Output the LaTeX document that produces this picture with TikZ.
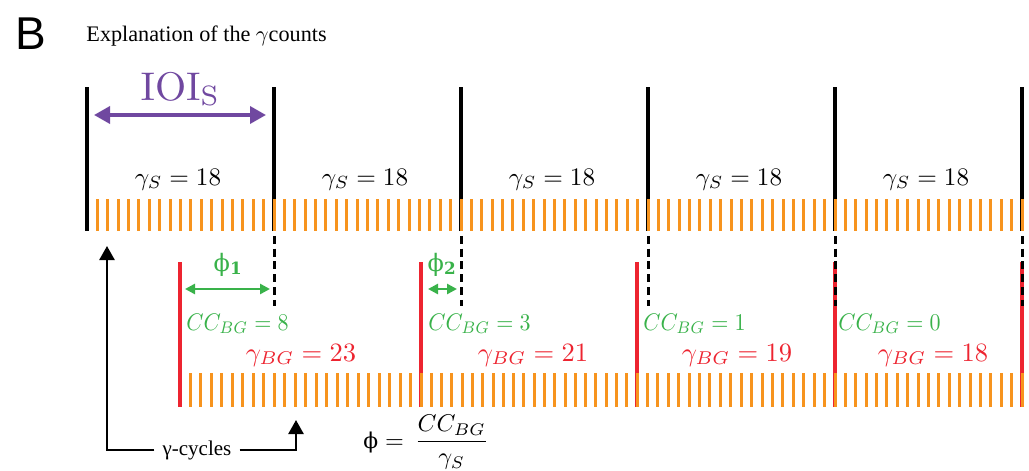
\documentclass[tikz,border=0pt]{standalone}
\usepackage[no-math]{fontspec}
\usepackage{tikz}
\usetikzlibrary{arrows.meta,positioning}
\newfontfamily\panelfont{Liberation Sans}
\newfontfamily\timesfont{Liberation Serif}
\newfontfamily\phifont{DejaVu Serif}
\newcommand{\setpx}[1]{\fontsize{#1}{#1}\selectfont}
\definecolor{tickorange}{RGB}{247,148,30}
\definecolor{bgred}{RGB}{237,36,48}
\definecolor{phigreen}{RGB}{57,178,74}
\definecolor{ioipurple}{RGB}{112,72,160}

\begin{document}
\begin{tikzpicture}[
        x=1pt, y=-1pt,
        stimline/.style={black, line width=3.5pt},
        bgline/.style={bgred, line width=3.5pt},
        onsetdash/.style={black, line width=3pt, dash pattern=on 8pt off 4.8pt, dash phase=8pt},
        gtick/.style={tickorange, line width=3pt},
        ioiarrow/.style={ioipurple, line width=3.5pt, {Triangle[length=16pt,width=17pt]}-{Triangle[length=16pt,width=17pt]}},
        phiarrow/.style={phigreen, line width=2.5pt, {Triangle[length=10pt,width=10pt]}-{Triangle[length=10pt,width=10pt]}},
        cyclearrow/.style={black, line width=2.5pt, -{Triangle[length=14pt,width=15pt]}},
        slabel/.style={anchor=base, inner sep=0pt, scale=2.52},
        bglabel/.style={anchor=base, inner sep=0pt, text=bgred, scale=2.65},
        cclabel/.style={anchor=base west, inner sep=0pt, text=phigreen, xscale=2.2, yscale=2.4},
        philabel/.style={anchor=base, inner sep=0pt, text=phigreen, font=\phifont\setpx{24}}
    ]
        \useasboundingbox (0,0) rectangle (1029,471);

        \node[anchor=base west, inner sep=0pt, font=\panelfont\setpx{46}] (panel) at (15,49) {B};
        \node[anchor=base west, inner sep=0pt, font=\timesfont, scale=2.22] (title) at (86,41) {Explanation of the $\gamma$counts};

        \foreach \i in {0,...,5} {
            \coordinate (s\i) at ({87+187*\i},87);
            \coordinate (sb\i) at ({87+187*\i},231);
            \coordinate (sd\i) at ({87+187*\i},306);
        }
        \foreach \x [count=\j from 0] in {180,421,637,835,1022} {
            \coordinate (g\j) at (\x,262);
            \coordinate (gb\j) at (\x,407);
        }

        \foreach \i in {0,...,5}
            \draw[stimline] (s\i) -- (sb\i);
        \foreach \j in {0,...,4}
            \draw[bgline] (g\j) -- (gb\j);

        \foreach \i in {0,...,4}
            \foreach \k in {1,...,18}
                \draw[gtick] ({87+187*\i+187*\k/18},199) -- ++(0,32);
        \foreach \a/\b/\n in {180/421/23, 421/637/21, 637/835/19, 835/1022/18}
            \foreach \k in {1,...,\n}
                \draw[gtick] ({\a+(\b-\a)*\k/\n},373) -- ++(0,34);

        \foreach \i in {1,...,5}
            \draw[onsetdash] (sb\i) -- (sd\i);

        \node[anchor=base, inner sep=0pt, text=ioipurple, scale=4] (ioi) at (180.5,100) {$\mathrm{IOI_S}$};
        \coordinate (ioiL) at (94,115);
        \coordinate (ioiR) at (266,115);
        \draw[ioiarrow] (ioiL) -- (ioiR);

        \foreach \i in {0,...,4}
            \node[slabel] (gs\i) at ({178+187*\i},185) {$\gamma_S = 18$};

        \coordinate (phiA1) at (185,289);
        \coordinate (phiB1) at (270,289);
        \coordinate (phiA2) at (428,289);
        \coordinate (phiB2) at (457,289);
        \draw[phiarrow] (phiA1) -- (phiB1);
        \draw[phiarrow] (phiA2) -- (phiB2);
        \node[philabel] (phi1) at (228,271) {ϕ\textsubscript{\textbf{1}}};
        \node[philabel] (phi2) at (442,271) {ϕ\textsubscript{\textbf{2}}};

        \node[cclabel] (cc1) at (186,330) {$CC_{BG} = 8$};
        \node[cclabel] (cc2) at (428,330) {$CC_{BG} = 3$};
        \node[cclabel] (cc3) at (643,330) {$CC_{BG} = 1$};
        \node[cclabel] (cc4) at (838,330) {$CC_{BG} = 0$};

        \node[bglabel] (gbg1) at (301,361) {$\gamma_{BG} = 23$};
        \node[bglabel] (gbg2) at (533,361) {$\gamma_{BG} = 21$};
        \node[bglabel] (gbg3) at (737,361) {$\gamma_{BG} = 19$};
        \node[bglabel] (gbg4) at (933,361) {$\gamma_{BG} = 18$};

        \node[inner xsep=8pt, inner ysep=0pt, font=\timesfont\setpx{21}] (cycles) at (197,450) {γ-cycles};
        \coordinate (upL) at (107,246);
        \coordinate (upR) at (296,420);
        \draw[cyclearrow] (cycles.west) -| (upL);
        \draw[cyclearrow] (cycles.east) -| (upR);

        \node[anchor=base west, inner sep=0pt, scale=2.42] (phiform) at (363,448) {{\phifont\setpx{9}ϕ}$\;=\,\displaystyle\frac{CC_{BG}}{\gamma_S}$};
    \end{tikzpicture}
\end{document}
